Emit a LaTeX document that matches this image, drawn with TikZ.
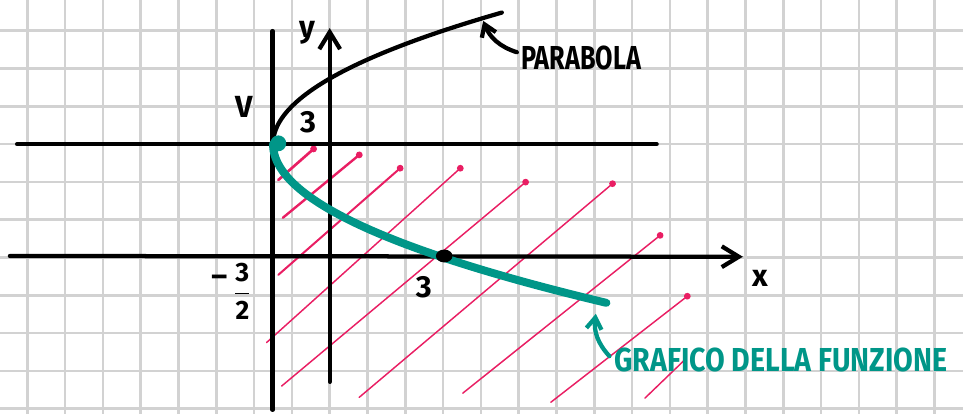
\documentclass[tikz,border=0pt]{standalone}
\usepackage{amsmath}
\usepackage{fontspec}
\setmainfont{Fira Sans}
\usetikzlibrary{arrows.meta}

\definecolor{gridgray}{RGB}{210,210,210}
\definecolor{graphteal}{RGB}{0,150,136}
\definecolor{hatchpink}{RGB}{233,30,99}

\begin{document}
\begin{tikzpicture}[
  pen/.style={line width=3.2pt, line cap=round, line join=round},
  barb/.style={-{Straight Barb[length=4.5mm, width=5.5mm]}},
  hatch/.style={hatchpink, line width=1.1pt, line cap=round, -{Circle[length=5pt]}},
  lbl/.style={font=\fontsize{23}{23}\selectfont\bfseries, inner sep=1pt},
  note/.style={font=\fontsize{25}{25}\selectfont\bfseries, inner sep=4pt}
]

% squared paper
\useasboundingbox (-8.722,-4.140) rectangle (16.754,6.812);
\clip (-8.722,-4.140) rectangle (16.754,6.812);
\draw[gridgray, line width=2pt] (-8.722,-4.140) grid (16.754,6.812);

% hatched region
\draw[hatch, line width=2pt] (-1.36,2.05) -- (-0.36,2.93);
\draw[hatch, line width=1.8pt] (-1.24,1.05) -- (0.85,2.77);
\draw[hatch, line width=1.5pt] (-1.36,-0.46) -- (1.93,2.42);
\draw[hatch] (-1.67,-2.25) -- (3.52,2.42);
\draw[hatch] (-1.27,-3.40) -- (5.25,2.05);
\draw[hatch] (0.78,-3.70) -- (7.55,2.01);
\draw[hatch] (3.52,-3.59) -- (8.81,0.64);
\draw[hatch] (5.85,-3.83) -- (9.53,-0.97);
\draw[hatch, -] (8.34,-3.72) -- (9.40,-2.70);

% axes
\draw[pen, barb] (-8.46,0.04) -- (10.93,0.02);
\draw[pen, barb] (0,-3.29) -- (0,6.07);
\node[lbl] (ylbl) at (-0.60,5.94) {y};
\node[lbl] (xlbl) at (11.38,-0.54) {x};

% lines through the vertex
\draw[pen] (-8.27,3.0) -- (8.65,3.0);
\draw[pen] (-1.51,5.99) -- (-1.51,-4.03);
\node[lbl] (vlbl) at (-2.27,3.98) {V};
\node[lbl] (ythree) at (-0.57,3.58) {3};
\node[lbl] (xthree) at (2.49,-0.78) {3};
\node[lbl] (minus) at (-2.92,-0.62) {--};
\node[lbl, font=\fontsize{20}{20}\selectfont\bfseries] (half) at (-2.31,-0.90)
  {$\dfrac{\text{3}}{\text{2}}$};

% parabola
\draw[pen, domain=-1.2:6.48, variable=\t, smooth, samples=60]
  plot ({((\t-3)^2-3)/2}, \t);

% graph of the function
\draw[graphteal, line width=6pt, line cap=round, domain=-1.2:3, variable=\t, smooth]
  plot ({((\t-3)^2-3)/2}, \t);
\fill[graphteal] (-1.36,3.02) circle (0.21);
\fill (3.03,0.04) ellipse (0.22 and 0.17);

% labels with arrows
\node[note, xscale=0.76, anchor=west] (parlbl) at (4.95,5.28) {PARABOLA};
\coordinate (partip) at (4.06,6.26);
\draw[pen, -{Straight Barb[length=3mm, width=4mm]}]
  ([yshift=0.15cm]parlbl.west) to[bend left=25] (partip);

\node[note, graphteal, xscale=0.86, anchor=west] (funlbl) at (7.40,-2.71)
  {GRAFICO DELLA FUNZIONE};
\coordinate (funtip) at (7.04,-1.49);
\draw[pen, graphteal, -{Straight Barb[length=3mm, width=4mm]}]
  ([yshift=0.1cm]funlbl.west) to[bend left=25] (funtip);

\end{tikzpicture}
\end{document}
